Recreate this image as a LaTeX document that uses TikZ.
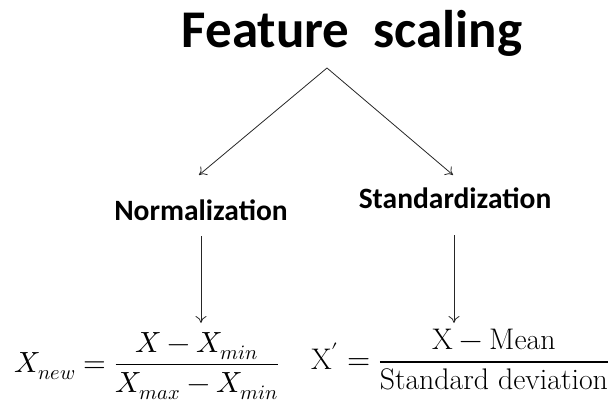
\documentclass[tikz,border=0pt]{standalone}
\usepackage{amsmath}
\usepackage{fontspec}
\usepackage{unicode-math}
\setmathfont{Latin Modern Math}
\usetikzlibrary{arrows.meta}
\newfontfamily\calib{Carlito}
\begin{document}
\begin{tikzpicture}[x=1pt,y=-1pt,
  heading/.style={font=\calib\bfseries\fontsize{53}{58}\selectfont, inner sep=0pt},
  branch/.style={font=\calib\bfseries\fontsize{29.5}{34}\selectfont, inner sep=0pt},
  link/.style={draw=black!85, line width=0.8pt, ->, >={To[length=7pt,width=11pt]}}]
\useasboundingbox (0,0) rectangle (611,405);
% title and the two branches
\node[heading, anchor=base] (title) at (352,47) {Feature\ \ scaling};
\coordinate (apex) at (327,68);
\node[branch, anchor=base] (norm) at (201,220) {Normalization};
\node[branch, anchor=base] (std) at (455,208) {Standardization};
\coordinate (nl) at (199,175);
\coordinate (sr) at (453,175);
\coordinate (nt) at (201,236);
\coordinate (st) at (454,235);
% formulas
\node[inner sep=0pt, anchor=base west, font=\fontsize{29.2}{35}\selectfont] (fn) at (14,372)
  {$X_{new}=\dfrac{X-X_{min}}{X_{max}-X_{min}}$};
\node[inner sep=0pt, anchor=base west, font=\fontsize{29.8}{35}\selectfont] (fs) at (311,369.5)
  {$\mathrm{X}'=\dfrac{\mathrm{X-Mean}}{\mathrm{Standard\ deviation}}$};
\coordinate (nb) at (201,323);
\coordinate (sb) at (454,323);
% connectors
\draw[link] (apex) -- (nl);
\draw[link] (apex) -- (sr);
\draw[link] (nt) -- (nb);
\draw[link] (st) -- (sb);
\end{tikzpicture}
\end{document}
